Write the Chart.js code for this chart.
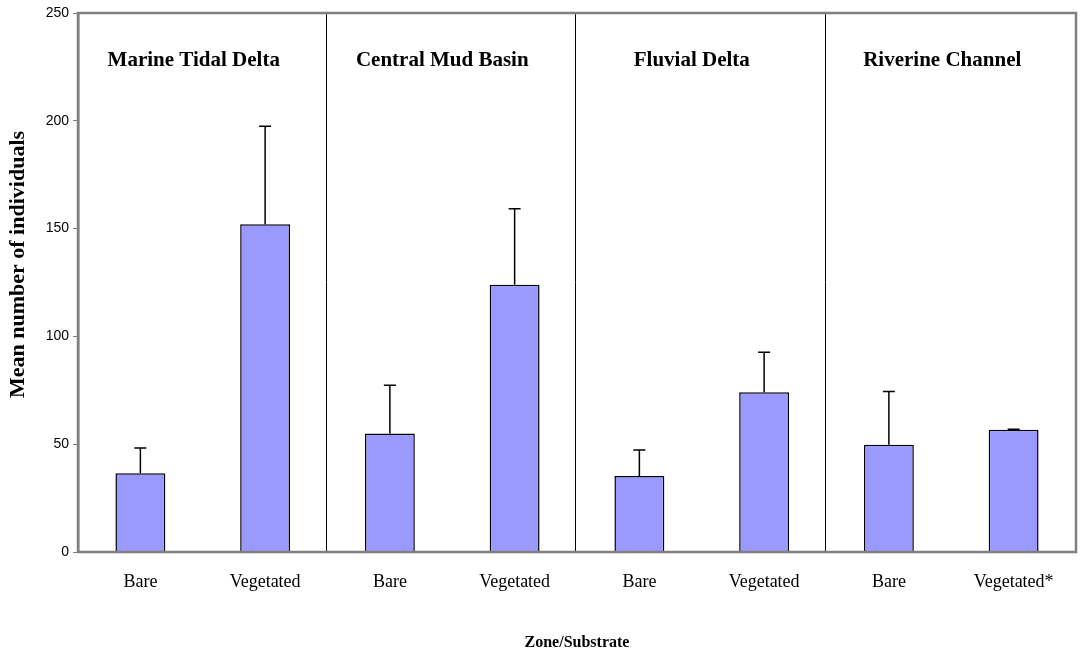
<!DOCTYPE html>
<html>
<head>
<meta charset="utf-8">
<script src="https://cdn.jsdelivr.net/npm/chart.js@4"></script>
<style>
  html, body { margin: 0; padding: 0; background: #fff; }
  #wrap { width: 1081px; height: 653px; }
</style>
</head>
<body>
<div id="wrap"><canvas id="c"></canvas></div>
<script>
const substrates = ['Bare', 'Vegetated', 'Bare', 'Vegetated', 'Bare', 'Vegetated', 'Bare', 'Vegetated*'];
const zones = ['Marine Tidal Delta', 'Central Mud Basin', 'Fluvial Delta', 'Riverine Channel'];
const means = [36.5, 152, 55, 124, 35.3, 74.1, 49.8, 56.7];
const errors = [11.7, 45.5, 22.3, 35.2, 12, 18.5, 24.6, 0.2];
const yTicks = [0, 50, 100, 150, 200, 250];
const yTitle = 'Mean number of individuals';

const serif = '"Liberation Serif", "Times New Roman", serif';
const sans = '"Liberation Sans", Arial, sans-serif';

// error bars (upper only), zone dividers, zone titles, plot frame, y title
const extras = {
  id: 'extras',
  afterDatasetsDraw(chart) {
    const ctx = chart.ctx;
    const x = chart.scales.x, y = chart.scales.y;
    const area = chart.chartArea;
    ctx.save();

    // dividers between zones
    ctx.strokeStyle = '#000';
    ctx.lineWidth = 1;
    const divX = [];
    for (let i = 1; i < zones.length; i++) {
      const px = (x.getPixelForValue(i * 2 - 1) + x.getPixelForValue(i * 2)) / 2 - 2;
      divX.push(px);
      ctx.beginPath();
      ctx.moveTo(Math.round(px) + 0.5, area.top);
      ctx.lineTo(Math.round(px) + 0.5, area.bottom);
      ctx.stroke();
    }

    // error bars
    ctx.strokeStyle = '#000';
    ctx.lineWidth = 1.5;
    means.forEach((m, i) => {
      const px = x.getPixelForValue(i);
      const top = y.getPixelForValue(m + errors[i]);
      const base = y.getPixelForValue(m);
      ctx.beginPath();
      ctx.moveTo(px, base);
      ctx.lineTo(px, top);
      ctx.moveTo(px - 6, top);
      ctx.lineTo(px + 6, top);
      ctx.stroke();
    });

    // zone titles
    const edges = [area.left, ...divX, area.right];
    ctx.fillStyle = '#000';
    ctx.font = 'bold 21px ' + serif;
    ctx.textAlign = 'center';
    ctx.textBaseline = 'middle';
    zones.forEach((z, i) => {
      ctx.fillText(z, (edges[i] + edges[i + 1]) / 2 - 8, 61);
    });

    // y axis title, sitting a little above the plot centre like the original
    ctx.save();
    ctx.translate(18, (area.top + area.bottom) / 2 - 18);
    ctx.rotate(-Math.PI / 2);
    ctx.font = 'bold 22px ' + serif;
    ctx.fillText(yTitle, 0, 0);
    ctx.restore();

    // frame
    ctx.strokeStyle = '#808080';
    ctx.lineWidth = 2.5;
    ctx.strokeRect(area.left, area.top, area.right - area.left, area.bottom - area.top);
    ctx.restore();
  }
};

const ctx = document.getElementById('c').getContext('2d');
new Chart(ctx, {
  type: 'bar',
  data: {
    labels: substrates,
    datasets: [{
      data: means,
      backgroundColor: '#9999FF',
      borderColor: '#000',
      borderWidth: 1.5,
      barPercentage: 0.4,
      categoryPercentage: 1.0
    }]
  },
  options: {
    responsive: true,
    maintainAspectRatio: false,
    animation: false,
    layout: { padding: { top: 13, right: 5, left: 0, bottom: 0 } },
    plugins: {
      legend: { display: false },
      tooltip: { enabled: false }
    },
    scales: {
      x: {
        grid: { display: false, drawTicks: false },
        border: { display: false },
        ticks: {
          color: '#000',
          padding: 19,
          maxRotation: 0,
          font: { family: serif, size: 18 }
        },
        title: {
          display: true,
          text: 'Zone/Substrate',
          color: '#000',
          font: { family: serif, size: 16, weight: 'bold' },
          padding: { top: 4, bottom: 1 }
        },
        afterFit(scale) { scale.height = 101; }
      },
      y: {
        min: 0,
        max: 250,
        afterBuildTicks(scale) { scale.ticks = yTicks.map(v => ({ value: v })); },
        grid: {
          display: true,
          drawOnChartArea: false,
          drawTicks: true,
          tickLength: 5,
          color: '#808080'
        },
        border: { display: true, color: '#808080', width: 2.5 },
        ticks: {
          color: '#000',
          padding: 4,
          font: { family: sans, size: 14 }
        },
        afterFit(scale) { scale.width = 78; }
      }
    }
  },
  plugins: [extras]
});
</script>
</body>
</html>
